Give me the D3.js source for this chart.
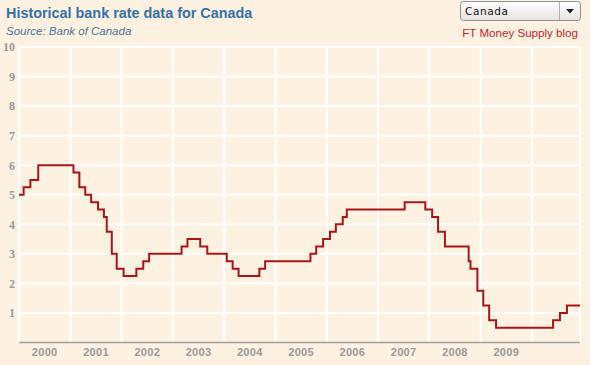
<!DOCTYPE html>
<html><head><meta charset="utf-8">
<script src="https://cdn.jsdelivr.net/npm/d3@7"></script>
<style>
html,body{margin:0;padding:0;background:#fdf1e2;}
svg{display:block;}
</style></head>
<body>
<svg id="chart" width="590" height="365"></svg>
<script>
// Bank rate change dates and new rate (%)
const changeDates = ["2000-01-01","2000-02-03","2000-03-22","2000-05-17","2001-01-23","2001-03-06","2001-04-17","2001-05-29","2001-07-17","2001-08-28","2001-09-17","2001-10-23","2001-11-27","2002-01-15","2002-04-16","2002-06-04","2002-07-16","2003-03-04","2003-04-15","2003-07-15","2003-09-03","2004-01-20","2004-03-02","2004-04-13","2004-09-08","2004-10-19","2005-09-07","2005-10-18","2005-12-06","2006-01-24","2006-03-07","2006-04-25","2006-05-24","2007-07-10","2007-12-04","2008-01-22","2008-03-04","2008-04-22","2008-10-08","2008-10-21","2008-12-09","2009-01-20","2009-03-03","2009-04-21","2010-06-01","2010-07-20","2010-09-08","2010-12-10"];
const rates = [5.00,5.25,5.50,6.00,5.75,5.25,5.00,4.75,4.50,4.25,3.75,3.00,2.50,2.25,2.50,2.75,3.00,3.25,3.50,3.25,3.00,2.75,2.50,2.25,2.50,2.75,3.00,3.25,3.50,3.75,4.00,4.25,4.50,4.75,4.50,4.25,3.75,3.25,2.75,2.50,1.75,1.25,0.75,0.50,0.75,1.00,1.25,1.25];
const yearLabels = ["2000","2001","2002","2003","2004","2005","2006","2007","2008","2009"];
const yTicks = [1,2,3,4,5,6,7,8,9,10];

const parse = d3.timeParse("%Y-%m-%d");
const data = changeDates.map((d,i)=>({date:parse(d), value:rates[i]}));

const svg = d3.select("#chart");
const mLeft = 19, mRight = 580, mTop = 47, mBottom = 342.5;

const x = d3.scaleTime()
  .domain([parse("2000-01-01"), parse("2010-12-10")])
  .range([mLeft, mRight]);
const y = d3.scaleLinear().domain([0,10]).range([mBottom, mTop]);

// Title
svg.append("text").attr("x",6).attr("y",17.5)
  .attr("font-family","Liberation Sans, Arial, sans-serif")
  .attr("font-weight","bold").attr("font-size",14.4).attr("fill","#3572a8")
  .text("Historical bank rate data for Canada");
svg.append("text").attr("x",6).attr("y",35)
  .attr("font-family","Liberation Sans, Arial, sans-serif")
  .attr("font-style","italic").attr("font-size",11.5).attr("fill","#4a76a0")
  .text("Source: Bank of Canada");

// Dropdown
const dd = svg.append("g");
const grad = svg.append("defs").append("linearGradient").attr("id","ddg")
  .attr("x1",0).attr("y1",0).attr("x2",0).attr("y2",1);
grad.append("stop").attr("offset","0%").attr("stop-color","#ffffff");
grad.append("stop").attr("offset","100%").attr("stop-color","#e6e4e0");
dd.append("rect").attr("x",460.5).attr("y",1.5).attr("width",120).attr("height",19)
  .attr("rx",3).attr("fill","url(#ddg)").attr("stroke","#8f8f8f");
dd.append("line").attr("x1",559.5).attr("x2",559.5).attr("y1",2).attr("y2",20)
  .attr("stroke","#b0b0b0");
dd.append("path").attr("d","M566,9 L574,9 L570,13.5 Z").attr("fill","#222");
dd.append("text").attr("x",465).attr("y",15)
  .attr("font-family","DejaVu Sans, Verdana, sans-serif")
  .attr("font-size",10.5).attr("letter-spacing",0.6).attr("fill","#111").text("Canada");

svg.append("text").attr("x",578).attr("y",36.5).attr("text-anchor","end")
  .attr("font-family","Liberation Sans, Arial, sans-serif")
  .attr("font-size",11.6).attr("fill","#c0272d").text("FT Money Supply blog");

// Gridlines
const years = d3.range(2000, 2011).map(yy=>new Date(yy,0,1));
svg.append("g").selectAll("line").data(yTicks).join("line")
  .attr("x1",mLeft).attr("x2",mRight)
  .attr("y1",d=>y(d)).attr("y2",d=>y(d))
  .attr("stroke","#fff").attr("stroke-width",2);
svg.append("g").selectAll("line").data(years).join("line")
  .attr("x1",d=>x(d)).attr("x2",d=>x(d))
  .attr("y1",mTop).attr("y2",mBottom)
  .attr("stroke","#fff").attr("stroke-width",2);
svg.append("line").attr("x1",mRight).attr("x2",mRight).attr("y1",mTop).attr("y2",mBottom)
  .attr("stroke","#fff").attr("stroke-width",2);

// Y labels
svg.append("g").selectAll("text").data(yTicks).join("text")
  .attr("x",15).attr("y",d=>y(d)).attr("dy","0.36em").attr("text-anchor","end")
  .attr("font-family","Liberation Serif, Georgia, serif").attr("font-weight","bold")
  .attr("font-size",12).attr("fill","#9a9a9a").text(d=>d);

// X axis
svg.append("line").attr("x1",mLeft).attr("x2",mRight).attr("y1",mBottom).attr("y2",mBottom)
  .attr("stroke","#a0a0a0").attr("stroke-width",1.5);
svg.append("g").selectAll("text").data(yearLabels).join("text")
  .attr("x",d=>(x(new Date(+d,0,1))+x(new Date(+d+1,0,1)))/2)
  .attr("y",356).attr("text-anchor","middle")
  .attr("font-family","Liberation Sans, Arial, sans-serif").attr("font-weight","bold")
  .attr("font-size",11).attr("letter-spacing",0.3).attr("fill","#9a9a9a").text(d=>d);

// Line
const line = d3.line().x(d=>x(d.date)).y(d=>y(d.value)).curve(d3.curveStepAfter);
svg.append("path").datum(data).attr("d",line)
  .attr("fill","none").attr("stroke","#a8161c").attr("stroke-width",2);
</script>
</body></html>
